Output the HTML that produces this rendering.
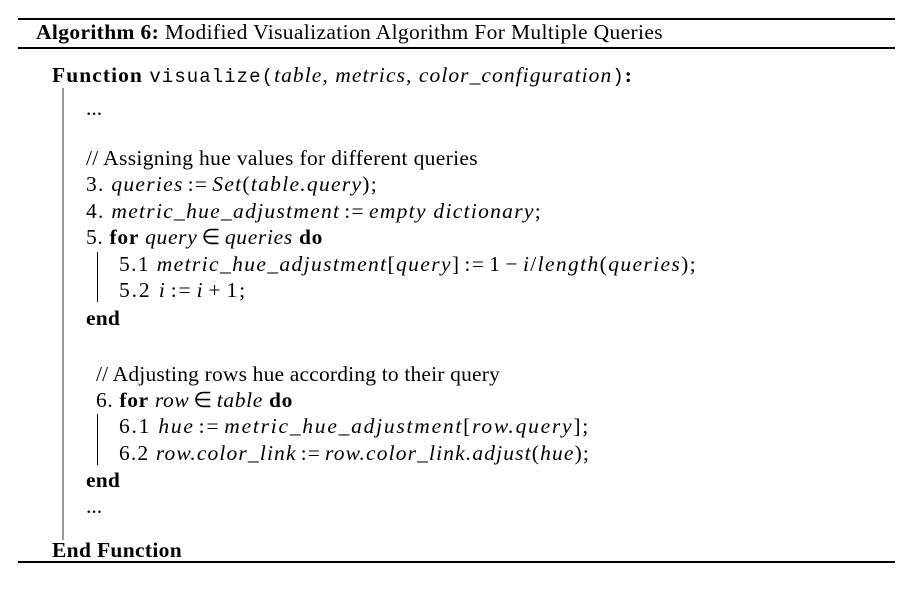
<!DOCTYPE html>
<html><head><meta charset="utf-8"><style>
body{margin:0;width:912px;height:608px;background:#fff;position:relative;overflow:hidden;font-family:"Liberation Serif",serif;font-size:21.5px;color:#000}
.l{position:absolute;white-space:nowrap;line-height:24px;height:24px}
.rule{position:absolute;left:18px;width:877px;background:#000}
.bar{position:absolute;width:2px;background:#999}
i{font-style:italic}
.m{font-family:"Liberation Mono",monospace;font-size:19px}
.o{margin:0 4px}
</style></head><body>
<div class="rule" style="top:18px;height:2px"></div>
<div class="l" data-r="663" style="left:36px;top:20px"><b>Algorithm 6:</b> Modified Visualization Algorithm For Multiple Queries</div>
<div class="rule" style="top:47px;height:1.5px"></div>
<div class="l" data-r="633" style="left:52px;top:63px"><b>Function</b> <span class="m">visualize(</span><i>table, metrics, color_configuration</i><span class="m">)</span><b>:</b></div>
<div class="bar" style="left:62px;top:88px;height:452px"></div>
<div class="l" style="left:86px;top:96px">...</div>
<div class="l" data-r="478" style="left:86px;top:146px">// Assigning hue values for different queries</div>
<div class="l" data-r="378" style="left:86px;top:172px">3. <i>queries</i><span class="o">:=</span><i>Set</i>(<i>table.query</i>);</div>
<div class="l" data-r="542" style="left:86px;top:199px">4. <i>metric_hue_adjustment</i><span class="o">:=</span><i>empty dictionary</i>;</div>
<div class="l" data-r="323" style="left:86px;top:225px">5. <b>for</b> <i>query</i><span class="o">∈</span><i>queries</i> <b>do</b></div>
<div class="bar" style="left:97px;top:252px;width:1px;height:50px;background:#000"></div>
<div class="l" data-r="697" style="left:119px;top:252px">5.1 <i>metric_hue_adjustment</i>[<i>query</i>]<span class="o">:=</span>1<span class="o">−</span><i>i</i>/<i>length</i>(<i>queries</i>);</div>
<div class="l" data-r="247" style="left:119px;top:278px">5.2 <i>i</i><span class="o">:=</span><i>i</i><span class="o">+</span>1;</div>
<div class="l" data-r="120" style="left:86px;top:306px"><b>end</b></div>
<div class="l" data-r="500" style="left:96px;top:362px">// Adjusting rows hue according to their query</div>
<div class="l" data-r="293" style="left:96px;top:388px">6. <b>for</b> <i>row</i><span class="o">∈</span><i>table</i> <b>do</b></div>
<div class="bar" style="left:97px;top:414px;width:1px;height:51px;background:#000"></div>
<div class="l" data-r="590" style="left:119px;top:414px">6.1 <i>hue</i><span class="o">:=</span><i>metric_hue_adjustment</i>[<i>row.query</i>];</div>
<div class="l" data-r="590" style="left:119px;top:441px">6.2 <i>row.color_link</i><span class="o">:=</span><i>row.color_link.adjust</i>(<i>hue</i>);</div>
<div class="l" data-r="120" style="left:86px;top:468px"><b>end</b></div>
<div class="l" style="left:86px;top:494px">...</div>
<div class="l" data-r="182" style="left:52px;top:538px"><b>End Function</b></div>
<div class="rule" style="top:561px;height:2px"></div>
<script>
document.querySelectorAll('.l[data-r]').forEach(function(el){
  var target = parseFloat(el.getAttribute('data-r')) - el.offsetLeft;
  var r = document.createRange(); r.selectNodeContents(el);
  var w = r.getBoundingClientRect().width;
  var n = el.textContent.length;
  if (n > 1) el.style.letterSpacing = ((target - w) / n) + 'px';
});
</script>
</body></html>
